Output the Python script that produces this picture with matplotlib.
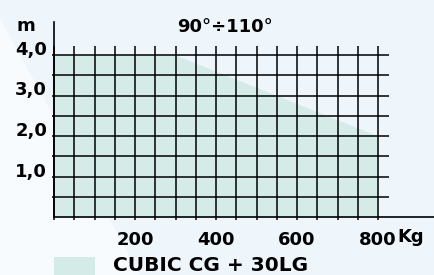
import matplotlib
matplotlib.use("Agg")
import matplotlib.pyplot as plt
from matplotlib.patches import Polygon, Rectangle

plt.rcParams["font.family"] = "DejaVu Sans"
plt.rcParams["font.weight"] = "bold"

# working range of the CUBIC CG + 30LG
load_kg = [0, 300, 800]
height_m = [4.0, 4.0, 2.0]

x_ticks = [200, 400, 600, 800]
x_labels = ['200', '400', '600', '800']
y_ticks = [1.0, 2.0, 3.0, 4.0]
y_labels = ['1,0', '2,0', '3,0', '4,0']
grid_x = list(range(0, 801, 50))
grid_y = [0.5, 1.0, 1.5, 2.0, 2.5, 3.0, 3.5, 4.0]
title = '90°÷110°'
series_name = 'CUBIC CG + 30LG'

W, H = 434, 275
fill_col = '#d5ebe8'
bg_col = '#eef5fb'

fig = plt.figure(figsize=(W / 100, H / 100), dpi=100, facecolor=bg_col)

# lighter diagonal wedge in the background
fig.patches.append(Polygon([(0, 1 - 18 / H), (140 / W, 0), (0, 0)], closed=True,
                           transform=fig.transFigure, facecolor='#f8fbfd',
                           edgecolor='none', zorder=-5))

ax = fig.add_axes([54 / W, (H - 217) / H, (W - 54) / W, (217 - 22) / H])
ax.set_zorder(2)
ax.set_facecolor('none')
ax.set_xlim(0, (W - 54) / 0.405)
ax.set_ylim(0, 195 / 40.5)

ax.fill_between(load_kg, height_m, color=fill_col, lw=0, zorder=1)

ax.vlines(grid_x, -0.07, 4.23, color='black', lw=1.1, zorder=2, clip_on=False)
ax.hlines(grid_y, -5, 827, color='black', lw=1.1, zorder=2, clip_on=False)

for s in ['top', 'right']:
    ax.spines[s].set_visible(False)
for s in ['left', 'bottom']:
    ax.spines[s].set_linewidth(1.2)
    ax.spines[s].set_zorder(3)

ax.set_xticks(x_ticks)
ax.set_xticklabels(x_labels, fontsize=13, fontweight='bold')
ax.tick_params(axis='x', length=0, pad=10)
ax.set_yticks([])
for y, lab in zip(y_ticks, y_labels):
    ax.text(-17, y, lab, ha='right', va='baseline', fontsize=13, fontweight='bold')

ax.text(-70, 4.6, 'm', ha='center', va='baseline', fontsize=13, fontweight='bold')
ax.text(423, 4.57, title, ha='center', va='baseline', fontsize=13, fontweight='bold')
fig.text(397 / W, 1 - 241.5 / H, 'Kg', ha='left', va='baseline', fontsize=13, fontweight='bold')

# legend
fig.patches.append(Rectangle((54 / W, 0), 41 / W, 18 / H, transform=fig.transFigure,
                             facecolor=fill_col, edgecolor='none', zorder=-4))
fig.text(113 / W, 1 - 271 / H, series_name, ha='left', va='baseline', fontsize=14.5, fontweight='bold')

fig.savefig('out.png', dpi=100, facecolor=bg_col)
